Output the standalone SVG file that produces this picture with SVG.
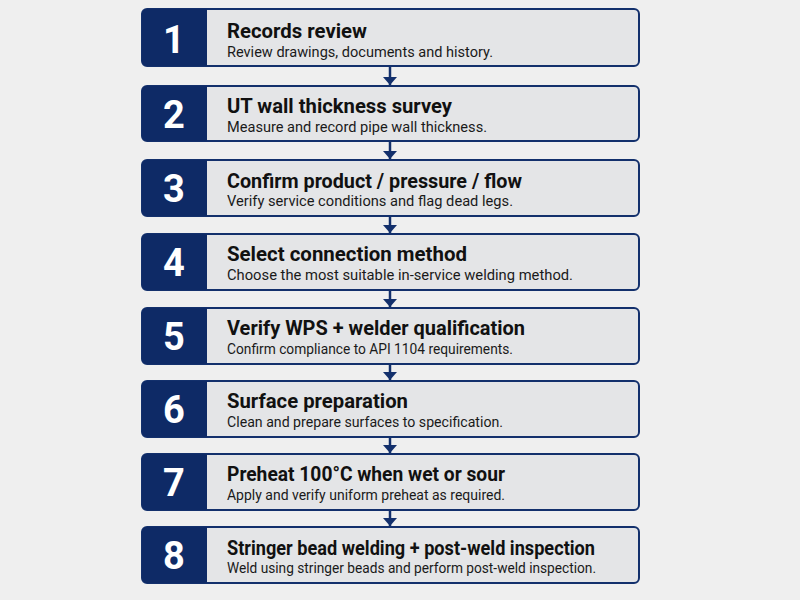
<svg xmlns="http://www.w3.org/2000/svg" width="800" height="600" viewBox="0 0 800 600">
<defs>
<style>
.box{fill:#e4e5e7;stroke:#13306c;stroke-width:2}
.num{fill:#0e2a66}
.n{font-family:Roboto,"Liberation Sans",sans-serif;font-weight:700;font-size:38px;fill:#ffffff;text-anchor:middle}
.t{font-family:Roboto,"Liberation Sans",sans-serif;font-weight:700;font-size:20px;fill:#111111}
.s{font-family:Roboto,"Liberation Sans",sans-serif;font-size:15px;fill:#1a1a1a}
.c{stroke:#13306c;stroke-width:2.5;fill:none}
</style>
<marker id="ah" viewBox="0 0 8 14" refX="8" refY="7" markerWidth="8" markerHeight="14" orient="auto" markerUnits="userSpaceOnUse">
<path d="M0,0 L8,7 L0,14 z" fill="#13306c"/>
</marker>
</defs>
<rect width="800" height="600" fill="#efefef"/>
<g id="connectors">
<line class="c" x1="390" y1="66" x2="390" y2="85" marker-end="url(#ah)"/>
<line class="c" x1="390" y1="142" x2="390" y2="159" marker-end="url(#ah)"/>
<line class="c" x1="390" y1="216" x2="390" y2="233" marker-end="url(#ah)"/>
<line class="c" x1="390" y1="290" x2="390" y2="307" marker-end="url(#ah)"/>
<line class="c" x1="390" y1="364" x2="390" y2="380" marker-end="url(#ah)"/>
<line class="c" x1="390" y1="437" x2="390" y2="453" marker-end="url(#ah)"/>
<line class="c" x1="390" y1="510" x2="390" y2="526" marker-end="url(#ah)"/>
</g>
<g id="node1">
<rect class="box" x="142" y="9" width="497" height="57" rx="5"/>
<path class="num" d="M147,9 H207 V66 H147 A5,5 0 0 1 142,61 V14 A5,5 0 0 1 147,9 Z"/>
<text class="n" x="174" y="53">1</text>
<text class="t" x="227" y="38" textLength="140" lengthAdjust="spacingAndGlyphs">Records review</text>
<text class="s" x="227" y="57" textLength="266" lengthAdjust="spacingAndGlyphs">Review drawings, documents and history.</text>
</g>
<g id="node2">
<rect class="box" x="142" y="86" width="497" height="55" rx="5"/>
<path class="num" d="M147,86 H207 V141 H147 A5,5 0 0 1 142,136 V91 A5,5 0 0 1 147,86 Z"/>
<text class="n" x="174" y="128">2</text>
<text class="t" x="227" y="113" textLength="225" lengthAdjust="spacingAndGlyphs">UT wall thickness survey</text>
<text class="s" x="227" y="132" textLength="260" lengthAdjust="spacingAndGlyphs">Measure and record pipe wall thickness.</text>
</g>
<g id="node3">
<rect class="box" x="142" y="160" width="497" height="56" rx="5"/>
<path class="num" d="M147,160 H207 V216 H147 A5,5 0 0 1 142,211 V165 A5,5 0 0 1 147,160 Z"/>
<text class="n" x="174" y="202">3</text>
<text class="t" x="227" y="188" textLength="295" lengthAdjust="spacingAndGlyphs">Confirm product / pressure / flow</text>
<text class="s" x="227" y="206" textLength="286" lengthAdjust="spacingAndGlyphs">Verify service conditions and flag dead legs.</text>
</g>
<g id="node4">
<rect class="box" x="142" y="234" width="497" height="56" rx="5"/>
<path class="num" d="M147,234 H207 V290 H147 A5,5 0 0 1 142,285 V239 A5,5 0 0 1 147,234 Z"/>
<text class="n" x="174" y="276">4</text>
<text class="t" x="227" y="261" textLength="240" lengthAdjust="spacingAndGlyphs">Select connection method</text>
<text class="s" x="227" y="280" textLength="346" lengthAdjust="spacingAndGlyphs">Choose the most suitable in-service welding method.</text>
</g>
<g id="node5">
<rect class="box" x="142" y="308" width="497" height="56" rx="5"/>
<path class="num" d="M147,308 H207 V364 H147 A5,5 0 0 1 142,359 V313 A5,5 0 0 1 147,308 Z"/>
<text class="n" x="174" y="350">5</text>
<text class="t" x="227" y="335" textLength="298" lengthAdjust="spacingAndGlyphs">Verify WPS + welder qualification</text>
<text class="s" x="227" y="354" textLength="286" lengthAdjust="spacingAndGlyphs">Confirm compliance to API 1104 requirements.</text>
</g>
<g id="node6">
<rect class="box" x="142" y="381" width="497" height="56" rx="5"/>
<path class="num" d="M147,381 H207 V437 H147 A5,5 0 0 1 142,432 V386 A5,5 0 0 1 147,381 Z"/>
<text class="n" x="174" y="423">6</text>
<text class="t" x="227" y="408" textLength="181" lengthAdjust="spacingAndGlyphs">Surface preparation</text>
<text class="s" x="227" y="427" textLength="276" lengthAdjust="spacingAndGlyphs">Clean and prepare surfaces to specification.</text>
</g>
<g id="node7">
<rect class="box" x="142" y="454" width="497" height="56" rx="5"/>
<path class="num" d="M147,454 H207 V510 H147 A5,5 0 0 1 142,505 V459 A5,5 0 0 1 147,454 Z"/>
<text class="n" x="174" y="496">7</text>
<text class="t" x="227" y="481" textLength="278" lengthAdjust="spacingAndGlyphs">Preheat 100°C when wet or sour</text>
<text class="s" x="227" y="500" textLength="278" lengthAdjust="spacingAndGlyphs">Apply and verify uniform preheat as required.</text>
</g>
<g id="node8">
<rect class="box" x="142" y="527" width="497" height="56" rx="5"/>
<path class="num" d="M147,527 H207 V583 H147 A5,5 0 0 1 142,578 V532 A5,5 0 0 1 147,527 Z"/>
<text class="n" x="174" y="569">8</text>
<text class="t" x="227" y="555" textLength="368" lengthAdjust="spacingAndGlyphs">Stringer bead welding + post-weld inspection</text>
<text class="s" x="227" y="573" textLength="369" lengthAdjust="spacingAndGlyphs">Weld using stringer beads and perform post-weld inspection.</text>
</g>
</svg>
